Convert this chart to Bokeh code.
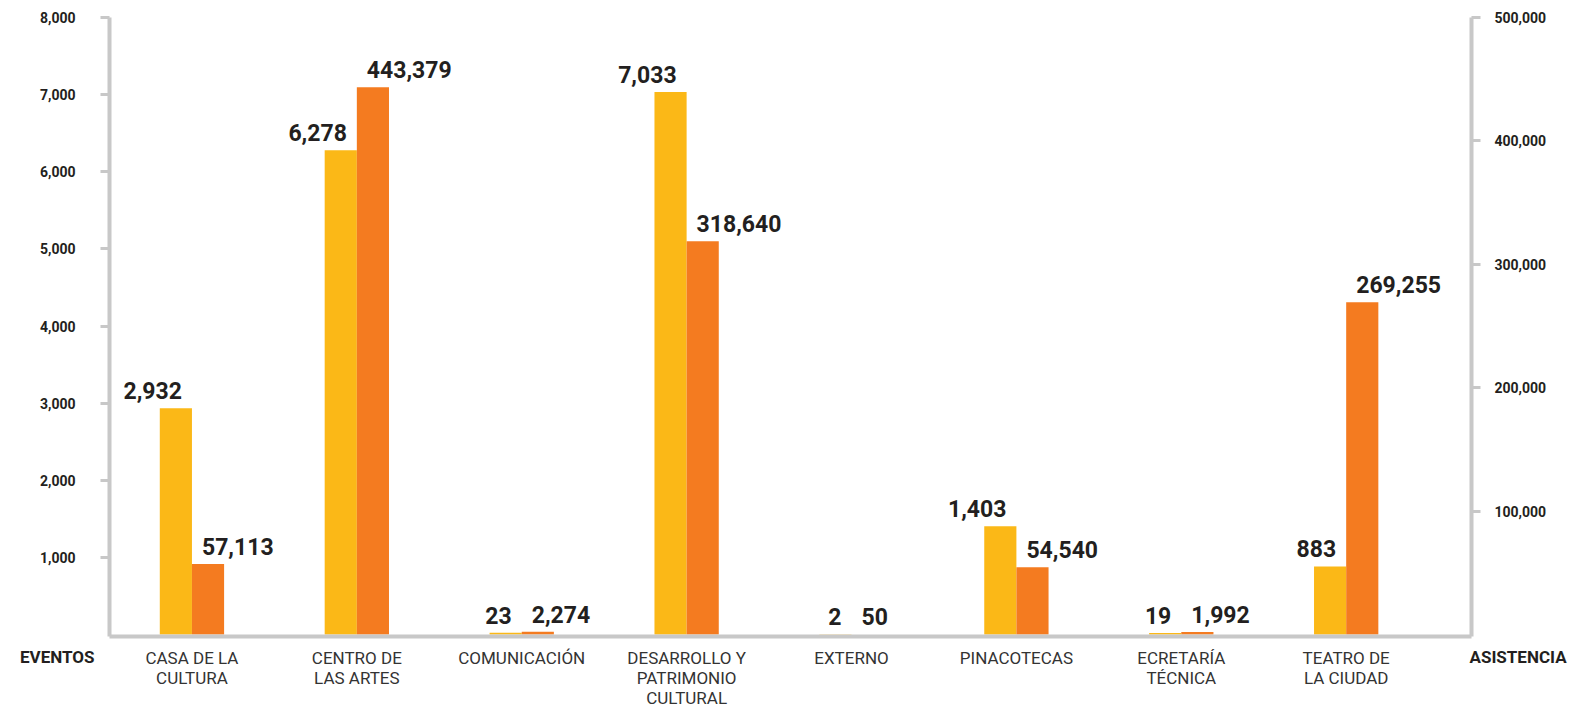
from bokeh.plotting import figure
from bokeh.models import Range1d, LinearAxis, FixedTicker, NumeralTickFormatter, ColumnDataSource
from bokeh.embed import file_html
from bokeh.resources import INLINE
from bokeh.core.properties import value

categories = ["CASA DE LA\nCULTURA", "CENTRO DE\nLAS ARTES", "COMUNICACIÓN",
              "DESARROLLO Y\nPATRIMONIO\nCULTURAL", "EXTERNO", "PINACOTECAS",
              "ECRETARÍA\nTÉCNICA", "TEATRO DE\nLA CIUDAD"]
eventos = [2932, 6278, 23, 7033, 2, 1403, 19, 883]
asistencia = [57113, 443379, 2274, 318640, 50, 54540, 1992, 269255]
left_ticks = [1000, 2000, 3000, 4000, 5000, 6000, 7000, 8000]
right_ticks = [100000, 200000, 300000, 400000, 500000]
left_title = "EVENTOS"
right_title = "ASISTENCIA"

YELLOW = "#FBB817"
ORANGE = "#F47B20"
GRAY = "#C8C8C8"
DARK = "#231F20"
FONT = "Roboto"

idx = list(range(len(categories)))
bw = 0.195
src = ColumnDataSource(dict(
    x=idx,
    xe=[i - bw / 2 for i in idx],
    xa=[i + bw / 2 for i in idx],
    ev=eventos,
    asi=asistencia,
    evl=[f"{v:,}" for v in eventos],
    asl=[f"{v:,}" for v in asistencia],
))

# a 2px gap below the zero line keeps the bars clear of the thick axis line
FH = 619
left_max, right_max = 8000, 500000
gap_px = 2
p = figure(frame_width=1362, frame_height=FH, output_backend="svg", toolbar_location=None,
           x_range=Range1d(-0.5, 7.76),
           y_range=Range1d(-left_max * gap_px / (FH - gap_px), left_max),
           min_border_left=109, min_border_right=110, min_border_top=17, min_border_bottom=68)
p.extra_y_ranges = {"right": Range1d(-right_max * gap_px / (FH - gap_px), right_max)}
p.outline_line_color = None
p.grid.visible = False
p.background_fill_color = "white"
p.border_fill_color = "white"

p.vbar(x="xe", width=bw, top="ev", bottom=0, source=src, fill_color=YELLOW, line_color=None)
p.vbar(x="xa", width=bw, top="asi", bottom=0, source=src, fill_color=ORANGE, line_color=None,
       y_range_name="right")

p.text(x="x", y="ev", text="evl", source=src, text_align="right", text_baseline="bottom",
       x_offset=-10, y_offset=-9, text_font=value(FONT), text_font_style="bold",
       text_font_size="23px", text_color=DARK)
p.text(x="x", y="asi", text="asl", source=src, text_align="left", text_baseline="bottom",
       x_offset=10, y_offset=-9, text_font=value(FONT), text_font_style="bold",
       text_font_size="23px", text_color=DARK, y_range_name="right")


def style_value_axis(ax, standoff):
    ax.axis_line_color = GRAY
    ax.axis_line_width = 4
    ax.major_tick_line_color = GRAY
    ax.major_tick_line_width = 3
    ax.major_tick_out = 9
    ax.major_tick_in = 0
    ax.minor_tick_line_color = None
    ax.major_label_standoff = standoff
    ax.major_label_text_font = FONT
    ax.major_label_text_font_style = "bold"
    ax.major_label_text_font_size = "14px"
    ax.major_label_text_color = DARK


def title_axis(text, standoff, range_name="default"):
    ax = LinearAxis(y_range_name=range_name, ticker=FixedTicker(ticks=[0]),
                    major_label_overrides={0: "\n\n" + text})
    ax.axis_line_color = None
    ax.major_tick_line_color = None
    ax.minor_tick_line_color = None
    ax.major_tick_out = 0
    ax.major_tick_in = 0
    ax.major_label_standoff = standoff
    ax.major_label_text_font = FONT
    ax.major_label_text_font_style = "bold"
    ax.major_label_text_font_size = "17px"
    ax.major_label_text_line_height = 1.12
    ax.major_label_text_color = DARK
    return ax


la = p.yaxis[0]
la.ticker = FixedTicker(ticks=left_ticks)
la.formatter = NumeralTickFormatter(format="0,0")
style_value_axis(la, 25)

ra = LinearAxis(y_range_name="right", ticker=FixedTicker(ticks=right_ticks),
                formatter=NumeralTickFormatter(format="0,0"))
style_value_axis(ra, 14)
p.add_layout(ra, "right")

p.add_layout(title_axis(left_title, -58), "left")
p.add_layout(title_axis(right_title, -80, "right"), "right")

xa = p.xaxis[0]
xa.ticker = FixedTicker(ticks=idx)
xa.major_label_overrides = {i: c for i, c in zip(idx, categories)}
xa.axis_line_color = GRAY
xa.axis_line_width = 4
xa.major_tick_line_color = None
xa.minor_tick_line_color = None
xa.major_tick_out = 0
xa.major_label_standoff = 11
xa.major_label_text_font = FONT
xa.major_label_text_font_size = "17px"
xa.major_label_text_line_height = 1.0
xa.major_label_text_color = "#333333"

open("out.html", "w").write(file_html(p, INLINE))
